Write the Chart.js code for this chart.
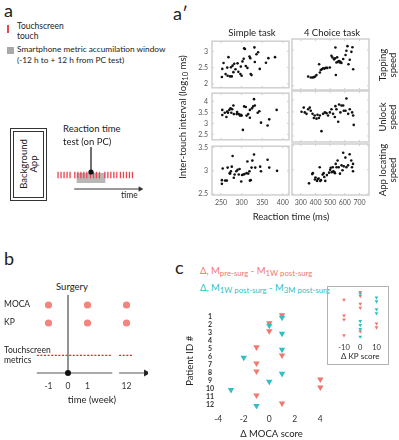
<!DOCTYPE html>
<html>
<head>
<meta charset="utf-8">
<script src="https://cdn.jsdelivr.net/npm/chart.js@4.4.1/dist/chart.umd.min.js"></script>
<style>
body { margin: 0; background: #fff; }
#fig { position: relative; width: 399px; height: 440px; overflow: hidden; font-family: Lato, sans-serif; color: #222; }
#fig canvas { position: absolute; }
.t { position: absolute; white-space: nowrap; line-height: 1.1; }
.t sub { font-size: 0.82em; vertical-align: -0.3em; line-height: 0; }
.box { position: absolute; box-sizing: border-box; }
</style>
</head>
<body>
<div id="fig"></div>
<script>
// a' : reaction time (ms) vs inter-touch interval (log10 ms)
const tapSimpleRT = [252,253,256,261,265,266,268,272,274,276,278,280,282,285,290,292,297,298,300,302,305,306,308,310,314,319,321,322,324,331,332,336,340,344,359,365,381];
const tapSimpleLog = [2.21,2.46,2.64,2.30,2.50,2.25,2.82,2.23,2.51,2.23,2.56,2.36,2.62,2.45,2.63,2.37,2.30,2.53,2.25,2.69,2.77,3.09,3.07,2.55,2.49,2.84,2.79,2.30,2.27,3.12,2.67,2.91,2.97,2.46,2.65,2.79,2.82];
const tapChoiceRT = [350,368,380,389,398,407,425,430,436,443,452,461,470,480,498,509,516,527,534,536,539,543,548,552,561,566,570,577,589,605,611,618,625,634,645,652,657];
const tapChoiceLog = [2.26,2.23,2.23,2.24,2.26,2.30,2.60,2.37,2.44,2.46,2.49,2.48,2.50,2.50,2.51,2.84,2.79,2.74,2.77,3.07,2.30,2.65,2.80,2.67,2.69,2.65,2.67,2.64,2.75,2.86,2.98,3.11,2.60,2.73,2.95,3.08,2.46];
const unlockSimpleRT = [253,253,259,263,265,267,270,273,275,277,280,281,288,289,293,296,298,300,303,306,310,312,316,320,320,325,330,328,332,339,343,347,363,367,385];
const unlockSimpleLog = [3.61,3.38,3.48,3.29,3.53,3.48,3.61,3.68,3.48,3.64,3.81,3.42,3.42,3.51,3.42,3.35,3.39,3.35,2.70,3.77,3.74,3.35,3.42,3.25,3.61,3.68,4.10,3.77,3.81,3.48,3.55,3.03,2.90,3.18,3.61];
const unlockChoiceRT = [305,320,327,339,350,361,368,380,389,395,407,414,423,430,441,452,464,475,486,498,509,520,532,536,543,555,561,570,577,589,593,605,611,623,634,650,657,661];
const unlockChoiceLog = [3.51,3.68,3.48,3.42,3.61,3.68,3.55,3.42,3.25,3.35,3.22,3.38,3.25,3.35,2.70,3.42,3.48,3.45,3.35,3.48,3.61,3.42,3.29,3.74,3.61,3.09,3.81,3.48,3.77,3.77,3.55,3.55,4.06,3.42,3.61,3.48,3.35,2.96];
const appSimpleRT = [252,252,254,260,264,266,271,272,274,276,278,281,283,287,290,293,295,299,301,304,307,312,314,316,319,320,322,324,326,330,333,345,347,363,367,386];
const appSimpleLog = [2.72,2.80,3.05,2.79,2.79,3.07,2.95,2.94,2.99,3.09,3.32,2.85,2.92,2.99,3.02,2.92,3.04,2.77,2.91,2.92,2.93,2.95,3.20,2.94,2.99,2.79,2.80,3.07,3.22,3.35,3.07,3.09,2.99,3.24,3.07,3.00];
const appChoiceRT = [356,378,382,396,400,411,416,422,429,433,438,449,456,460,467,478,493,500,504,511,518,522,529,533,538,544,551,558,567,578,584,589,593,604,611,622,633,644,649,656,656];
const appChoiceLog = [2.72,2.91,2.93,2.80,2.84,2.77,2.81,2.82,3.05,2.77,2.79,2.90,2.93,2.85,2.77,2.89,2.94,3.00,3.04,2.95,3.05,2.97,2.95,2.93,3.12,3.05,3.19,3.05,2.92,3.09,2.99,3.35,3.07,3.25,3.05,3.09,3.32,3.19,3.05,3.12,2.97];

const taskTitles = ['Simple task', '4 Choice task'];
const speedLabels = [['Tapping', 'speed'], ['Unlock', 'speed'], ['App locating', 'speed']];

// b : study timeline
const weekLabels = ['-1', '0', '1', '12'];
const weekSlots = [-1, 0, 1, 3];          // 12 sits after the axis break
const measureWeeks = [-1, 1, 3];          // slots with MOCA / KP visits
const rowLabels = ['MOCA', 'KP', 'Touchscreen<br>metrics'];
const rowLevels = [4, 3, 1.2];

// a : touches around the PC test (hours)
const touchBursts = [[-28, -16], [-14, -3], [-1, 9], [11, 22], [24, 36]];
const windowHours = [-12, 12];

// c : change in scores per patient
const patientIds = [1,2,3,4,5,6,7,8,9,10,11,12];
const mocaPreTo1W = [1, 0, 0, null, -1, 1, -1, -1, 4, 4, -1, 1];
const moca1WTo3M = [1, 0, 1, null, 1, -2, null, 1, 0, -3, null, -1];
const kpPreTo1W = [0, 0, -10, 0, 0, null, -10, -10, 10, 10, 0, -10];
const kp1WTo3M = [0, 10, 10, null, 10, 10, null, 0, 0, 0, null, 0];

const RED = '#f4756f';
const CYAN = '#2fbfc5';

Chart.defaults.font.family = 'Lato, sans-serif';
Chart.defaults.color = '#333';

// grey frame + inward tick marks like the original axes
Chart.register({
    id: 'frame',
    beforeDatasetsDraw(chart, args, opts) {
        if (!opts.color) return;
        const a = chart.chartArea, ctx = chart.ctx;
        ctx.save();
        ctx.strokeStyle = opts.color;
        ctx.lineWidth = opts.width || 1;
        ctx.strokeRect(a.left, a.top, a.right - a.left, a.bottom - a.top);
        if (opts.ticks) {
            ctx.lineWidth = 1;
            chart.scales.x.ticks.forEach(t => {
                const px = chart.scales.x.getPixelForValue(t.value);
                ctx.beginPath();
                ctx.moveTo(px, a.bottom); ctx.lineTo(px, a.bottom - 2);
                ctx.moveTo(px, a.top); ctx.lineTo(px, a.top + 2);
                ctx.stroke();
            });
            chart.scales.y.ticks.forEach(t => {
                const py = chart.scales.y.getPixelForValue(t.value);
                ctx.beginPath();
                ctx.moveTo(a.left, py); ctx.lineTo(a.left + 2, py);
                ctx.moveTo(a.right, py); ctx.lineTo(a.right - 2, py);
                ctx.stroke();
            });
        }
        ctx.restore();
    }
});

const fig = document.getElementById('fig');

function addCanvas(left, top, w, h) {
    const c = document.createElement('canvas');
    c.width = w; c.height = h;
    c.style.left = left + 'px'; c.style.top = top + 'px';
    c.style.width = w + 'px'; c.style.height = h + 'px';
    fig.appendChild(c);
    return c;
}

function text(html, x, y, size, opts = {}) {
    const d = document.createElement('div');
    d.className = 't';
    d.innerHTML = html;
    d.style.left = x + 'px';
    d.style.top = y + 'px';
    d.style.fontSize = size + 'px';
    if (opts.color) d.style.color = opts.color;
    if (opts.align) d.style.textAlign = opts.align;
    const tx = opts.center ? '-50%' : '0';
    d.style.transform = `translate(${tx},-50%)` + (opts.rot ? ` rotate(${opts.rot}deg)` : '');
    fig.appendChild(d);
    return d;
}

function box(left, top, w, h, css) {
    const d = document.createElement('div');
    d.className = 'box';
    d.style.cssText += `left:${left}px;top:${top}px;width:${w}px;height:${h}px;${css}`;
    fig.appendChild(d);
}

function points(xs, ys) {
    return xs.map((x, i) => ({ x: x, y: ys[i] }));
}

function lineSet(pts, color, width, extra = {}) {
    return Object.assign({ data: pts, showLine: true, borderColor: color, borderWidth: width,
        pointRadius: 0, borderCapStyle: 'butt', tension: 0 }, extra);
}

const noGrid = { display: false, drawTicks: false };
const plainNumber = v => String(Number(v.toFixed(2)));

const baseOptions = {
    responsive: false, animation: false, devicePixelRatio: 1,
    events: [],
    plugins: { legend: { display: false }, tooltip: { enabled: false } }
};

// ---------- panel a' ----------
const cellLeft = [212, 292];
const cellTop = [39, 91, 144];
const cellW = 77, cellH = 51;
const xRanges = [[228, 415], [240, 765]];
const xSteps = [50, 100];
const yRanges = [[1.88, 3.31], [2.25, 4.37], [2.48, 3.53]];
const cellData = [
    [[tapSimpleRT, tapSimpleLog], [tapChoiceRT, tapChoiceLog]],
    [[unlockSimpleRT, unlockSimpleLog], [unlockChoiceRT, unlockChoiceLog]],
    [[appSimpleRT, appSimpleLog], [appChoiceRT, appChoiceLog]]
];

for (let row = 0; row < 3; row++) {
    for (let col = 0; col < 2; col++) {
        const pad = 6;
        const axW = col === 0 ? 22 : 0;
        const axH = row === 2 ? 14 : 0;
        const cv = addCanvas(cellLeft[col] - axW - pad, cellTop[row] - pad, axW + cellW + 2 * pad, cellH + axH + 2 * pad);
        const [xs, ys] = cellData[row][col];
        new Chart(cv, {
            type: 'scatter',
            data: { datasets: [{ data: points(xs, ys), pointRadius: 1.3, backgroundColor: '#111', borderWidth: 0 }] },
            options: Object.assign({}, baseOptions, {
                layout: { padding: pad },
                plugins: Object.assign({}, baseOptions.plugins, { frame: { color: '#cfcfcf', width: 1.5, ticks: true } }),
                scales: {
                    x: {
                        min: xRanges[col][0], max: xRanges[col][1],
                        grid: noGrid, border: { display: false },
                        ticks: { display: row === 2, stepSize: xSteps[col], includeBounds: false, padding: 4,
                            maxRotation: 0, autoSkip: false, font: { size: 7 }, color: '#555', callback: plainNumber },
                        afterFit: s => { s.height = axH; }
                    },
                    y: {
                        min: yRanges[row][0], max: yRanges[row][1],
                        grid: noGrid, border: { display: false },
                        ticks: { display: col === 0, stepSize: 0.5, includeBounds: false, padding: 4,
                            font: { size: 7 }, color: '#555', callback: plainNumber },
                        afterFit: s => { s.width = axW; }
                    }
                }
            })
        });
    }
}

text('a′', 173, 14, 18);
text(taskTitles[0], 252, 33, 9.5, { center: true });
text(taskTitles[1], 332, 33, 9.5, { center: true });
text('Inter-touch interval (log<sub>10</sub> ms)', 183, 117, 9.5, { center: true, rot: -90 });
text('Reaction time (ms)', 291, 217, 9.5, { center: true });
speedLabels.forEach((lines, i) => {
    text(lines.join('<br>'), 388, cellTop[i] + cellH / 2, 9.5, { center: true, rot: -90, align: 'center' });
});

// ---------- panel a ----------
text('a', 4, 11, 18);
box(7, 25, 1.6, 8, 'background:#e8434f');
text('Touchscreen', 17, 27, 8.5);
text('touch', 17, 37, 8.5);
box(7, 47, 7, 7, 'background:#a9a9a9');
text('Smartphone metric accumilation window', 17, 50, 8.3);
text('(-12 h to + 12 h from PC test)', 17, 61, 8.3);
box(10, 128, 37, 73, 'border:1px solid #333');
box(13, 131, 31, 67, 'border:1px solid #333');
text('Background<br>App', 28.5, 164, 9.5, { center: true, rot: -90, align: 'center' });
text('Reaction time', 63, 129, 9.5);
text('test (on PC)', 63, 142, 9.5);
text('time', 121, 196, 8.5);

const tl = addCanvas(49, 137, 102, 64);
const tlSets = [];
tlSets.push(lineSet(points(windowHours, [-3, -3]), 'rgba(165,165,165,0.8)', 10, { order: 3 }));
touchBursts.forEach(b => {
    tlSets.push(lineSet(points(b, [0, 0]), '#e8434f', 6.5, { borderDash: [1.3, 1.7], order: 2 }));
});
tlSets.push(lineSet(points([0, 0], [3, 28]), '#111', 1.2, { order: 1 }));
tlSets.push({ data: [{ x: 0, y: 3 }], pointRadius: 2.6, backgroundColor: '#111', borderWidth: 0, order: 0 });
tlSets.push(lineSet(points([-14, 40], [-14, -14]), '#333', 1, { order: 1 }));
tlSets.push({ data: [{ x: 41, y: -14 }], pointStyle: 'triangle', rotation: 90, pointRadius: 3.2,
    backgroundColor: '#333', borderWidth: 0, order: 0 });
new Chart(tl, {
    type: 'scatter',
    data: { datasets: tlSets },
    options: Object.assign({}, baseOptions, {
        layout: { padding: 6 },
        scales: {
            x: { display: false, min: -30, max: 45 },
            y: { display: false, min: -20, max: 32 }
        }
    })
});

// ---------- panel b ----------
text('b', 4, 259, 18);
text('Surgery', 72, 287, 9.5, { center: true });

const bc = addCanvas(0, 280, 160, 130);
const bSets = [
    lineSet(points([-1.6, 2.27], [0.22, 0.22]), '#8c8c8c', 1.6, { order: 5 }),
    lineSet(points([2.62, 3.9], [0.22, 0.22]), '#8c8c8c', 1.6, { order: 5 }),
    lineSet(points([-1.6, 2.27], [rowLevels[2], rowLevels[2]]), '#e3242b', 1.4, { borderDash: [2, 1.6], order: 4 }),
    lineSet(points([2.62, 3.35], [rowLevels[2], rowLevels[2]]), '#e3242b', 1.4, { borderDash: [2, 1.6], order: 4 }),
    lineSet(points([0, 0], [0.22, 4.55]), '#666', 1.4, { order: 3 }),
    { data: points(measureWeeks, measureWeeks.map(() => rowLevels[0])), pointRadius: 3.6, backgroundColor: '#f4847f', borderWidth: 0, order: 1 },
    { data: points(measureWeeks, measureWeeks.map(() => rowLevels[1])), pointRadius: 3.6, backgroundColor: '#f4847f', borderWidth: 0, order: 1 },
    { data: [{ x: 0, y: 0.22 }], pointRadius: 3, backgroundColor: '#111', borderWidth: 0, order: 0 },
    { data: [{ x: 4.0, y: 0.22 }], pointStyle: 'triangle', rotation: 90, pointRadius: 4, backgroundColor: '#222', borderWidth: 0, order: 0 }
];
const bChart = new Chart(bc, {
    type: 'scatter',
    data: { datasets: bSets },
    options: Object.assign({}, baseOptions, {
        layout: { padding: { left: 4, right: 12, top: 10.6, bottom: 4.3 } },
        scales: {
            x: {
                min: -1.64, max: 4.1,
                grid: noGrid, border: { display: false },
                afterBuildTicks: s => { s.ticks = weekSlots.map(v => ({ value: v })); },
                ticks: { callback: (v, i) => weekLabels[i], padding: 4, maxRotation: 0, autoSkip: false,
                    font: { size: 8.5 }, color: '#333' },
                title: { display: true, text: 'time (week)', padding: 0, font: { size: 9.5 }, color: '#222' },
                afterFit: s => { s.height = 28.7; }
            },
            y: {
                min: 0, max: 4.8,
                grid: noGrid, border: { display: false },
                ticks: { display: false },
                afterFit: s => { s.width = 32; }
            }
        }
    })
});
// row names placed at the y scale's pixel for each row
rowLabels.forEach((lab, i) => {
    const py = 280 + bChart.scales.y.getPixelForValue(rowLevels[i]);
    text(lab, 4, py, 8.5);
});

// ---------- panel c ----------
text('c', 175, 268, 18);
text('Δ, M<sub>pre-surg</sub> - M<sub>1W post-surg</sub>', 200, 271, 9.5, { color: RED });
text('Δ, M<sub>1W post-surg</sub> - M<sub>3M post-surg</sub>', 200, 288, 9.5, { color: CYAN });

function triangles(values, color, shift, radius, order) {
    const pts = [];
    values.forEach((v, i) => { if (v !== null) pts.push({ x: v, y: patientIds[i] + shift }); });
    return { data: pts, pointStyle: 'triangle', rotation: 180, pointRadius: radius,
        backgroundColor: color, borderWidth: 0, order: order };
}

const cc = addCanvas(184, 300, 150, 140);
new Chart(cc, {
    type: 'scatter',
    data: { datasets: [triangles(mocaPreTo1W, RED, -0.2, 3.7, 1), triangles(moca1WTo3M, CYAN, 0.1, 3.7, 0)] },
    options: Object.assign({}, baseOptions, {
        layout: { padding: { left: 0, right: 6, top: 12.7, bottom: 0 } },
        scales: {
            x: {
                min: -4.25, max: 4.6,
                grid: noGrid, border: { display: false },
                ticks: { stepSize: 2, includeBounds: false, padding: 5, maxRotation: 0, font: { size: 8.5 }, color: '#333' },
                title: { display: true, text: 'Δ MOCA score', padding: 0, font: { size: 9.5 }, color: '#222' },
                afterFit: s => { s.height = 31; }
            },
            y: {
                min: 0.5, max: 12.5, reverse: true,
                grid: noGrid, border: { display: false },
                afterBuildTicks: s => { s.ticks = patientIds.map(v => ({ value: v })); },
                ticks: { padding: 1, crossAlign: 'center', autoSkip: false,
                    font: { size: 7, weight: 'bold' }, color: '#333' },
                title: { display: true, text: 'Patient ID #', padding: 0, font: { size: 9.5 }, color: '#222' },
                afterFit: s => { s.width = 31; }
            }
        }
    })
});

// inset: KP score
box(327, 286, 62, 79, 'border:1.5px solid #b3b3b3');
const ic = addCanvas(329, 287, 58, 76);
new Chart(ic, {
    type: 'scatter',
    data: { datasets: [triangles(kpPreTo1W, RED, -0.25, 2.2, 1), triangles(kp1WTo3M, CYAN, 0.15, 2.2, 0)] },
    options: Object.assign({}, baseOptions, {
        layout: { padding: { left: 8.5, right: 2, top: 3, bottom: 2.2 } },
        scales: {
            x: {
                min: -14, max: 14,
                grid: noGrid, border: { display: false },
                ticks: { stepSize: 10, includeBounds: false, padding: 5, maxRotation: 0, font: { size: 7.5 }, color: '#333' },
                title: { display: true, text: 'Δ KP score', padding: 0, font: { size: 8 }, color: '#222' },
                afterFit: s => { s.height = 22.5; }
            },
            y: { display: false, min: 0.5, max: 12.5, reverse: true }
        }
    })
});
</script>
</body>
</html>
